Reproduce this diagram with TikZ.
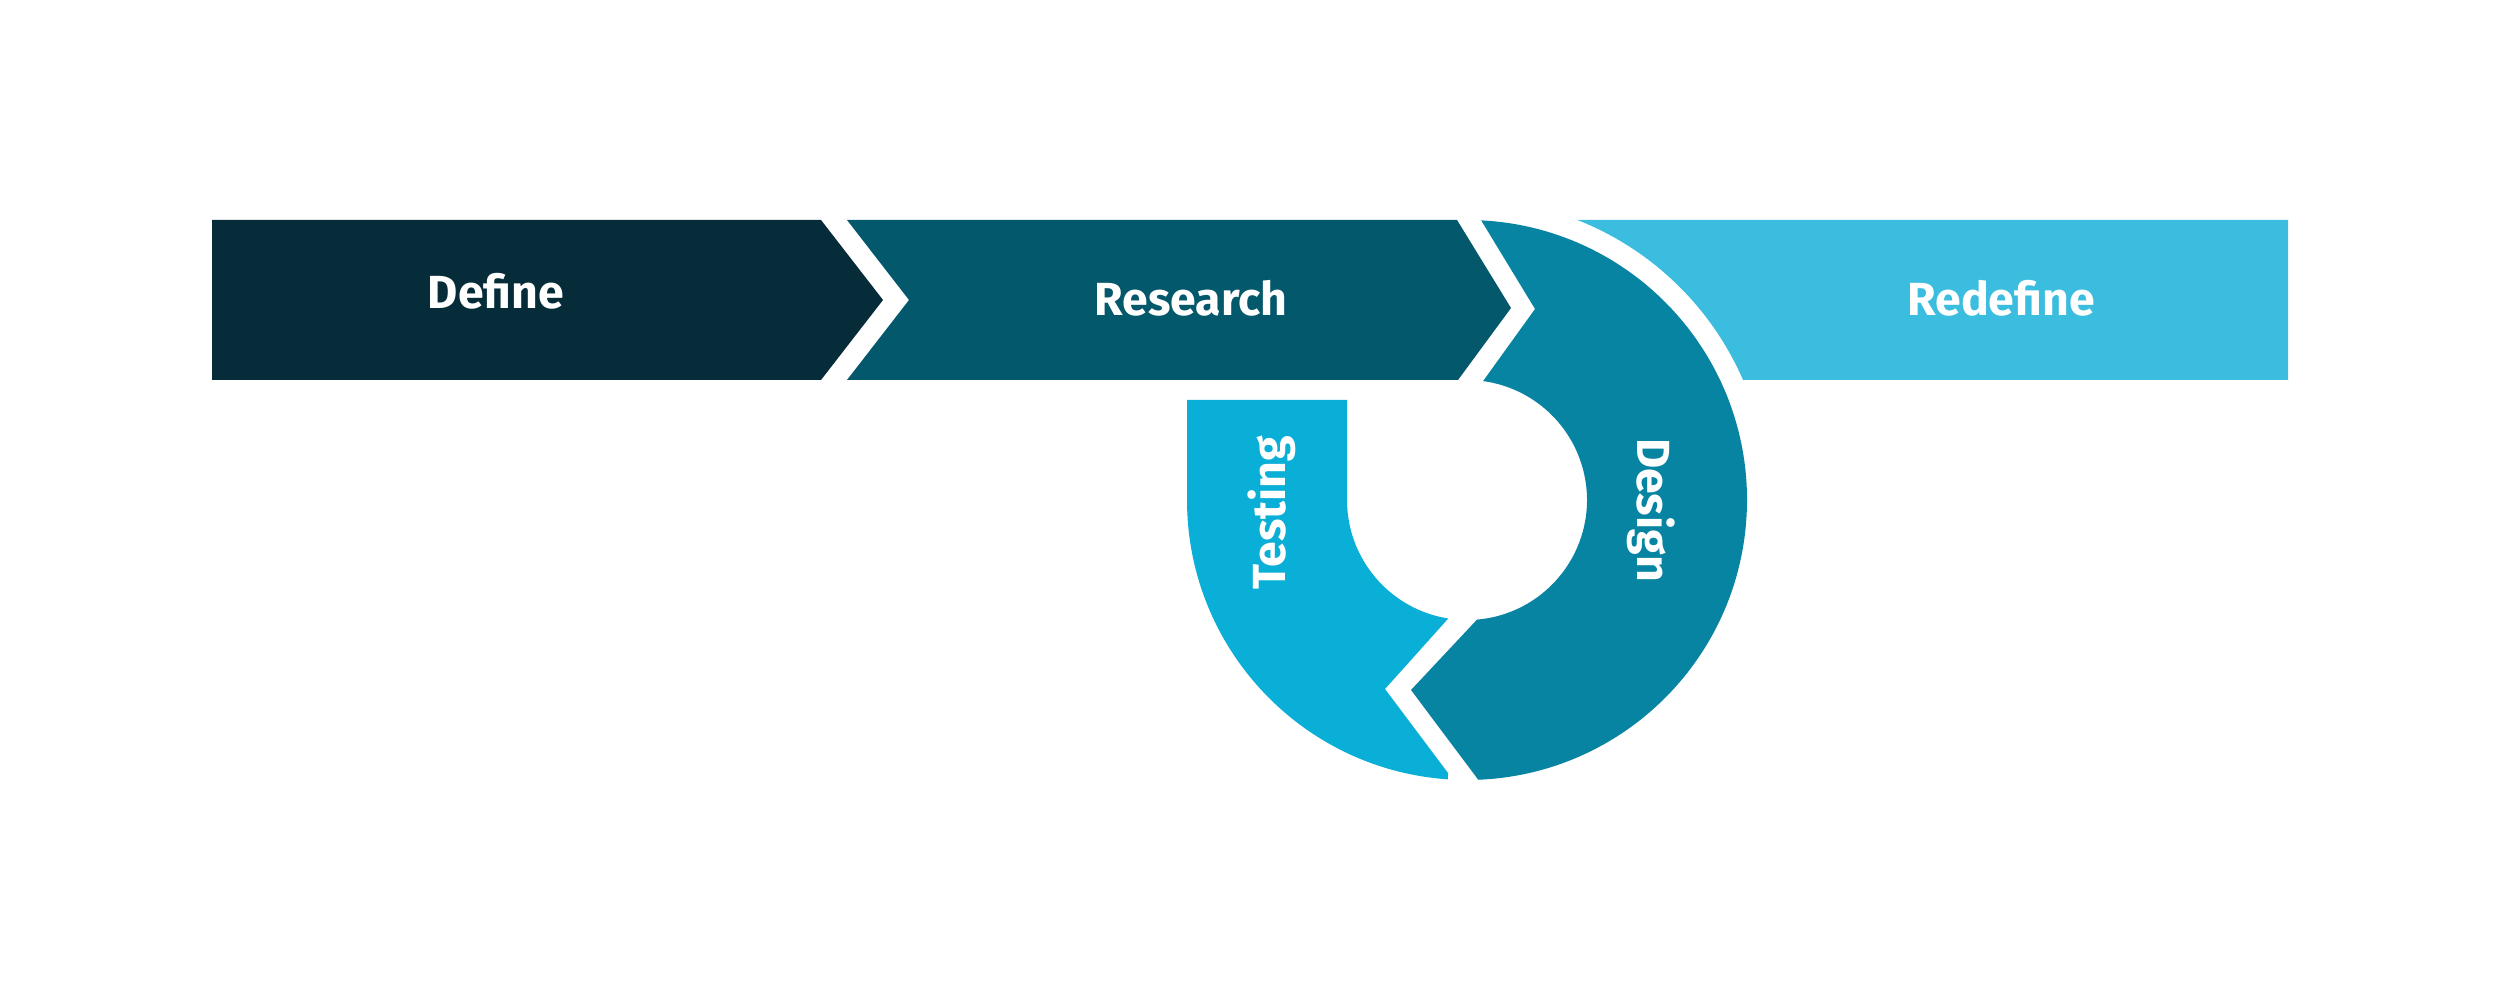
\documentclass[tikz,border=0pt]{standalone}
\usepackage{fontspec}
\setmainfont{Fira Sans}
\definecolor{cDefine}{HTML}{052C38}
\definecolor{cResearch}{HTML}{04586B}
\definecolor{cDesign}{HTML}{0784A2}
\definecolor{cTesting}{HTML}{09AFD6}
\definecolor{cRedefine}{HTML}{3ABDDE}
\begin{document}
\begin{tikzpicture}[x=0.01cm,y=0.01cm,
  lbl/.style={text=white,font=\fontsize{13.2pt}{15pt}\selectfont\bfseries,inner sep=0pt,anchor=base}]
\useasboundingbox[fill=white] (0,0) rectangle (2500,1000);
\coordinate (C) at (1467,500);
% Define
\fill[cDefine] (212,780) -- (821,780) -- (883,700) -- (821,620) -- (212,620) -- cycle;
% Research
\fill[cResearch] (847,780) -- (1457,780) -- (1511,692) -- (1458,620) -- (847,620) -- (909,700) -- cycle;
% Design
\fill[cDesign] ([shift={(87.1:280)}]C) arc[start angle=87.1, end angle=-87.7, radius=280]
  -- (1411,310) -- ([shift={(-85.2:120)}]C) arc[start angle=-85.2, end angle=82.3, radius=120]
  -- (1535,691) -- cycle;
% Testing
\fill[cTesting] (1187,600) -- (1347,600) -- ([shift={(180:120)}]C) arc[start angle=180, end angle=261, radius=120]
  -- (1385,311) -- (1448,227) -- ([shift={(266.1:280)}]C) arc[start angle=266.1, end angle=180, radius=280] -- cycle;
% Redefine
\fill[cRedefine] ([shift={(68.6:301)}]C) -- (2288,780) -- (2288,620) -- ([shift={(23.5:301)}]C)
  arc[start angle=23.5, end angle=68.6, radius=301] -- cycle;
% Labels
\node[lbl] (define) at (496,691) {Define};
\node[lbl] (research) at (1191,684) {Research};
\node[lbl] (redefine) at (2001,684) {Redefine};
\node[lbl,rotate=90] (testing) at (1285,487) {Testing};
\node[lbl,rotate=-90] (design) at (1637,490) {Design};
\end{tikzpicture}
\end{document}
